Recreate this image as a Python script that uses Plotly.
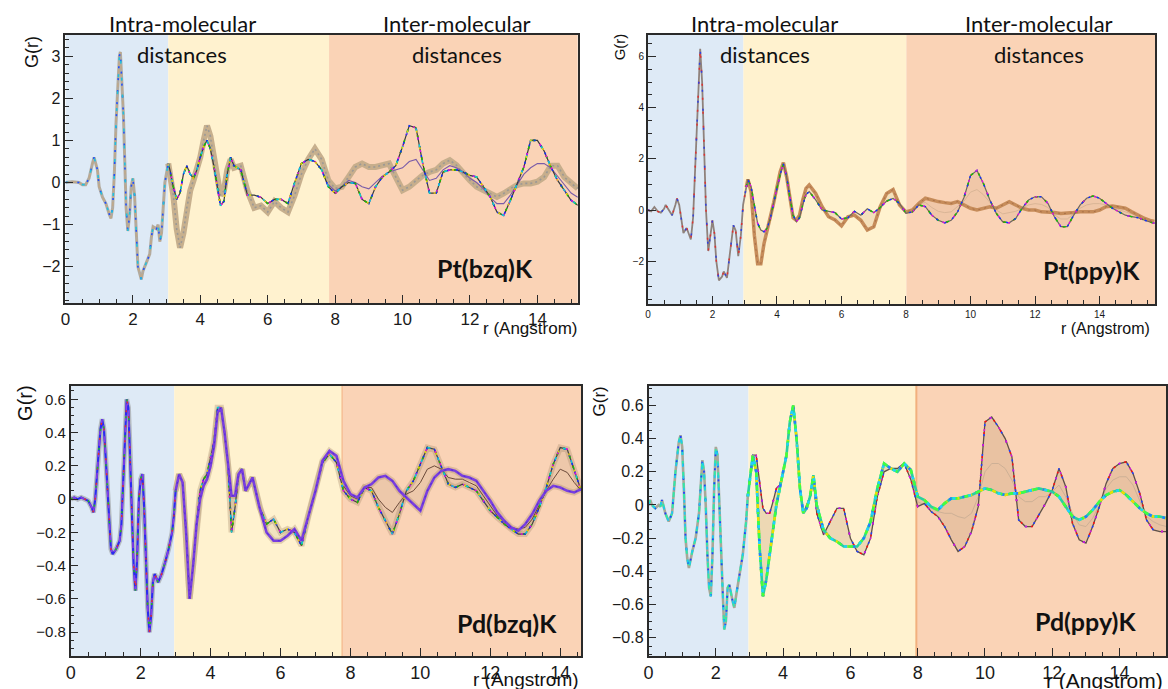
import plotly.graph_objects as go

W, H = 1168, 689

# ---------------- data (r in Angstrom, G(r)) ----------------
r_mid = [3.1, 3.2, 3.3, 3.4, 3.5, 3.6, 3.7, 3.8, 3.9, 4.0, 4.1, 4.2, 4.3, 4.4, 4.5, 4.6, 4.7, 4.8, 4.9, 5.0,
         5.2, 5.4, 5.6, 5.8, 6.0, 6.2, 6.4, 6.6, 6.8, 7.0, 7.2, 7.4, 7.6]
r_far = [7.8, 8.0, 8.2, 8.4, 8.6, 8.8, 9.0, 9.2, 9.4, 9.6, 9.8, 10.0, 10.2, 10.4, 10.6, 10.8, 11.0, 11.2, 11.4, 11.6,
         11.8, 12.0, 12.2, 12.4, 12.6, 12.8, 13.0, 13.2, 13.4, 13.6, 13.8, 14.0, 14.2, 14.4, 14.6, 14.8, 15.0, 15.2,
         15.4, 15.6, 15.7]

# Pt(bzq)K
r1_intra = [0.0, 0.2, 0.4, 0.5, 0.6, 0.7, 0.8, 0.85, 0.95, 1.0, 1.1, 1.2, 1.3, 1.35, 1.4, 1.45, 1.5, 1.55, 1.6, 1.63,
            1.68, 1.72, 1.76, 1.8, 1.85, 1.9, 1.95, 2.0, 2.05, 2.1, 2.15, 2.25, 2.3, 2.4, 2.5, 2.55, 2.6, 2.7, 2.75,
            2.8, 2.85, 2.9, 2.95, 3.05]
g1_intra = [0.0, 0.02, 0.0, -0.05, -0.05, 0.1, 0.45, 0.6, 0.3, -0.1, -0.35, -0.5, -0.75, -0.85, -0.6, 0.2, 1.4, 2.3,
            3.0, 3.1, 2.4, 1.6, 0.5, -0.6, -1.15, -0.8, -0.1, 0.1, -0.3, -1.2, -2.0, -2.3, -2.1, -1.9, -1.7, -1.3,
            -1.05, -1.1, -1.0, -1.4, -1.2, -0.6, 0.0, 0.45]
a1_mid = [0.3, -0.1, -0.4, -0.25, 0.2, 0.4, 0.2, 0.1, 0.3, 0.6, 0.85, 1.0, 0.8, 0.4, -0.1, -0.55, -0.45, 0.2, 0.6, 0.4,
          0.3, -0.3, -0.3, -0.35, -0.5, -0.4, -0.4, -0.5, 0.0, 0.45, 0.55, 0.5, 0.3]
b1_mid = [0.2, -0.3, -1.1, -1.55, -1.2, -0.6, -0.2, 0.05, 0.3, 0.6, 1.0, 1.35, 1.1, 0.6, 0.0, -0.3, -0.2, 0.3, 0.55,
          0.35, 0.4, -0.2, -0.6, -0.55, -0.7, -0.45, -0.6, -0.7, -0.3, 0.2, 0.55, 0.8, 0.55]
a1_far = [-0.1, -0.26, -0.1, 0.0, -0.02, -0.4, -0.5, -0.1, 0.13, 0.25, 0.4, 0.85, 1.35, 1.3, 0.45, -0.25, -0.25, 0.25,
          0.3, 0.3, 0.25, 0.17, 0.13, -0.1, -0.34, -0.7, -0.78, -0.42, -0.02, 0.37, 1.0, 1.0, 0.75, 0.37, 0.05,
          -0.18, -0.42, -0.54]
b1_far = [0.05, -0.14, -0.1, 0.13, 0.37, 0.45, 0.37, 0.37, 0.41, 0.45, 0.13, -0.18, -0.1, 0.05, 0.17, 0.25, 0.3, 0.45,
          0.53, 0.41, 0.21, 0.05, -0.1, -0.18, -0.26, -0.34, -0.26, -0.14, -0.06, -0.02, -0.02, 0.02, 0.13, 0.4, 0.4,
          0.13, -0.02, -0.14]
m1_far = [-0.05, -0.2, -0.1, 0.05, 0.0, -0.1, -0.15, 0.0, 0.15, 0.25, 0.3, 0.35, 0.5, 0.55, 0.3, 0.05, 0.1, 0.3, 0.4,
          0.35, 0.25, 0.1, 0.0, -0.15, -0.35, -0.5, -0.5, -0.3, -0.05, 0.2, 0.35, 0.45, 0.45, 0.35, 0.15, -0.05,
          -0.25, -0.35]

# Pt(ppy)K
r2_intra = [0.0, 0.1, 0.2, 0.3, 0.4, 0.5, 0.55, 0.65, 0.75, 0.85, 0.9, 0.97, 1.05, 1.1, 1.2, 1.25, 1.33, 1.4, 1.48,
            1.55, 1.62, 1.68, 1.74, 1.8, 1.87, 1.93, 2.0, 2.06, 2.12, 2.2, 2.3, 2.35, 2.45, 2.55, 2.65, 2.72, 2.8,
            2.88, 2.95, 3.05]
g2_intra = [0.0, -0.05, 0.12, -0.05, -0.1, 0.05, 0.2, 0.0, -0.2, 0.2, 0.45, 0.2, -0.6, -0.9, -0.7, -0.85, -1.15,
            -0.3, 2.0, 4.5, 6.3, 5.0, 2.5, 0.0, -1.6, -1.0, -0.4, -0.9, -2.0, -2.75, -2.6, -2.4, -2.65, -1.6, -0.6,
            -0.8, -1.8, -1.0, 0.2, 0.9]
a2_mid = [1.2, 0.9, 0.13, -0.52, -0.78, -0.85, -0.7, -0.3, 0.3, 0.9, 1.4, 1.8, 1.3, 0.5, -0.2, -0.45, -0.3, 0.2, 0.6,
          0.72, 0.4, 0.0, -0.05, -0.1, -0.35, -0.3, -0.05, -0.2, 0.05, -0.1, 0.1, 0.35, 0.45]
b2_mid = [1.2, 0.7, -1.0, -2.1, -2.1, -1.3, -0.8, -0.3, 0.3, 0.9, 1.5, 1.85, 1.3, 0.5, -0.3, -0.4, -0.2, 0.4, 0.85,
          0.98, 0.65, 0.13, -0.26, -0.39, -0.62, -0.26, -0.2, -0.4, -0.78, -0.65, 0.13, 0.65, 0.8]
a2_far = [0.26, -0.13, -0.07, 0.2, 0.13, -0.2, -0.4, -0.5, -0.4, -0.07, 0.5, 1.35, 1.55, 1.04, 0.39, -0.13, -0.46,
          -0.5, -0.33, 0.07, 0.39, 0.52, 0.52, 0.26, -0.26, -0.65, -0.65, -0.2, 0.2, 0.46, 0.55, 0.46, 0.26, 0.07,
          -0.07, -0.2, -0.26, -0.3, -0.4, -0.5, -0.52]
b2_far = [0.2, -0.07, 0.0, 0.26, 0.46, 0.39, 0.33, 0.29, 0.26, 0.33, 0.2, 0.07, 0.0, 0.07, 0.13, 0.07, 0.2, 0.33, 0.2,
          0.07, 0.0, 0.0, -0.07, -0.07, -0.1, -0.13, -0.13, -0.1, -0.07, -0.07, -0.07, 0.0, 0.13, 0.16, 0.13, 0.07,
          -0.07, -0.2, -0.33, -0.42, -0.45]
m2_far = [0.2, -0.1, -0.03, 0.22, 0.3, 0.1, -0.05, -0.1, -0.07, 0.13, 0.35, 0.7, 0.8, 0.6, 0.3, 0.0, -0.15, -0.1,
          -0.05, 0.07, 0.2, 0.25, 0.22, 0.1, -0.18, -0.35, -0.35, -0.15, 0.07, 0.2, 0.25, 0.25, 0.2, 0.1, 0.03,
          -0.07, -0.15, -0.25, -0.35, -0.45, -0.48]

# Pd(bzq)K
r3_intra = [0.0, 0.1, 0.2, 0.3, 0.4, 0.5, 0.6, 0.65, 0.7, 0.75, 0.8, 0.85, 0.9, 0.95, 1.0, 1.05, 1.1, 1.15, 1.2, 1.3,
            1.4, 1.45, 1.5, 1.55, 1.6, 1.65, 1.7, 1.75, 1.8, 1.85, 1.9, 1.95, 2.0, 2.05, 2.1, 2.15, 2.2, 2.25, 2.3,
            2.35, 2.4, 2.5, 2.6, 2.7, 2.8, 2.9, 2.95, 3.0]
g3_intra = [0.0, 0.01, 0.0, 0.01, 0.0, -0.01, -0.05, -0.08, 0.0, 0.15, 0.3, 0.42, 0.48, 0.42, 0.25, 0.05, -0.15, -0.3,
            -0.33, -0.3, -0.25, -0.15, 0.1, 0.4, 0.6, 0.55, 0.25, -0.1, -0.4, -0.55, -0.35, 0.0, 0.12, 0.15, -0.05,
            -0.35, -0.65, -0.8, -0.7, -0.5, -0.45, -0.5, -0.45, -0.38, -0.3, -0.2, -0.1, 0.05]
a3_mid = [0.15, 0.1, -0.2, -0.6, -0.4, -0.15, 0.05, 0.12, 0.15, 0.25, 0.35, 0.55, 0.55, 0.4, 0.2, -0.2, -0.05, 0.15,
          0.18, 0.05, 0.13, -0.05, -0.15, -0.12, -0.2, -0.18, -0.2, -0.28, -0.1, 0.05, 0.22, 0.27, 0.22]
b3_mid = [0.15, 0.1, -0.2, -0.6, -0.4, -0.15, 0.0, 0.08, 0.12, 0.2, 0.32, 0.52, 0.55, 0.4, 0.2, 0.02, 0.02, 0.15,
          0.18, 0.05, 0.13, -0.05, -0.2, -0.25, -0.25, -0.22, -0.18, -0.25, -0.1, 0.05, 0.23, 0.29, 0.26]
a3_far = [0.05, 0.0, -0.02, 0.07, 0.05, -0.05, -0.13, -0.21, -0.09, 0.05, 0.11, 0.21, 0.31, 0.3, 0.19, 0.09, 0.07,
          0.09, 0.07, 0.05, -0.01, -0.07, -0.11, -0.15, -0.18, -0.21, -0.21, -0.15, -0.05, 0.07, 0.21, 0.31, 0.3,
          0.17, 0.05]
b3_far = [0.11, 0.03, 0.01, 0.07, 0.09, 0.13, 0.14, 0.11, 0.05, 0.01, -0.03, -0.07, 0.05, 0.13, 0.17, 0.18, 0.17,
          0.14, 0.13, 0.11, 0.05, -0.01, -0.08, -0.13, -0.17, -0.19, -0.15, -0.09, -0.01, 0.05, 0.08, 0.07, 0.05,
          0.04, 0.06]
m3_far = [0.08, 0.02, 0.0, 0.07, 0.07, 0.0, -0.05, -0.08, -0.02, 0.03, 0.05, 0.1, 0.18, 0.2, 0.18, 0.13, 0.12, 0.12,
          0.1, 0.08, 0.02, -0.04, -0.1, -0.14, -0.17, -0.18, -0.17, -0.12, -0.03, 0.05, 0.12, 0.18, 0.16, 0.1, 0.05]

# Pd(ppy)K
r4_intra = [0.0, 0.05, 0.1, 0.2, 0.3, 0.35, 0.4, 0.5, 0.6, 0.7, 0.8, 0.9, 0.95, 1.0, 1.05, 1.1, 1.15, 1.2, 1.3, 1.4,
            1.5, 1.55, 1.6, 1.65, 1.7, 1.75, 1.8, 1.85, 1.9, 1.95, 2.0, 2.05, 2.1, 2.2, 2.25, 2.3, 2.35, 2.4, 2.5,
            2.55, 2.6, 2.7, 2.8, 2.9, 2.95]
g4_intra = [0.0, 0.03, 0.0, -0.02, 0.0, -0.01, 0.03, -0.05, -0.1, -0.05, 0.2, 0.38, 0.42, 0.35, 0.1, -0.2, -0.32,
            -0.38, -0.28, -0.2, -0.05, 0.15, 0.27, 0.2, 0.0, -0.3, -0.5, -0.55, -0.3, 0.1, 0.35, 0.3, 0.0, -0.5,
            -0.75, -0.7, -0.5, -0.48, -0.58, -0.62, -0.55, -0.42, -0.3, -0.1, 0.05]
a4_mid = [0.3, 0.2, -0.25, -0.55, -0.45, -0.3, -0.15, 0.0, 0.1, 0.2, 0.3, 0.5, 0.6, 0.4, 0.1, -0.05, -0.02, 0.05,
          0.18, 0.0, -0.15, -0.2, -0.22, -0.25, -0.25, -0.25, -0.2, -0.1, 0.1, 0.25, 0.22, 0.2, 0.25]
b4_mid = [0.3, 0.3, 0.15, -0.02, -0.05, -0.05, 0.02, 0.1, 0.12, 0.2, 0.3, 0.5, 0.6, 0.4, 0.1, -0.05, 0.0, 0.05,
          0.15, -0.05, -0.18, -0.1, -0.02, -0.02, -0.2, -0.28, -0.3, -0.2, 0.05, 0.2, 0.22, 0.22, 0.25]
a4_far = [0.21, 0.05, 0.03, -0.01, -0.03, 0.01, 0.04, 0.04, 0.05, 0.06, 0.08, 0.1, 0.09, 0.07, 0.06, 0.07, 0.07,
          0.08, 0.09, 0.1, 0.09, 0.08, 0.05, -0.01, -0.07, -0.09, -0.07, -0.03, 0.02, 0.06, 0.08, 0.09, 0.06, 0.02,
          -0.02, -0.05, -0.07, -0.07, -0.08]
b4_far = [0.15, -0.01, 0.01, -0.04, -0.07, -0.13, -0.21, -0.28, -0.25, -0.16, -0.01, 0.5, 0.53, 0.47, 0.4, 0.29,
          -0.09, -0.13, -0.13, -0.06, 0.01, 0.09, 0.22, 0.11, -0.11, -0.21, -0.23, -0.13, -0.01, 0.13, 0.22, 0.25,
          0.26, 0.19, 0.07, -0.09, -0.15, -0.16, -0.16]
m4_far = [0.18, 0.02, 0.0, -0.02, -0.04, -0.05, -0.05, -0.07, -0.08, -0.05, 0.05, 0.2, 0.25, 0.25, 0.22, 0.15, 0.05,
          0.02, 0.02, 0.05, 0.05, 0.08, 0.12, 0.05, -0.05, -0.12, -0.13, -0.08, 0.0, 0.1, 0.15, 0.17, 0.17, 0.12,
          0.02, -0.07, -0.1, -0.12, -0.13]

panel_names = ["Pt(bzq)K", "Pt(ppy)K", "Pd(bzq)K", "Pd(ppy)K"]
region_edges = [[3.05, 7.82], [2.96, 8.01], [2.96, 7.76], [2.97, 7.96]]
x_ranges = [[0, 15.2], [0, 15.73], [0, 14.6], [0, 15.38]]
y_ranges = [[-2.86, 3.51], [-3.67, 6.85], [-0.943, 0.68], [-0.91, 0.717]]

# ---------------- figure ----------------
fig = go.Figure()
FONT_AX = "Liberation Sans, Arial, sans-serif"
FONT_TX = "Lato, Open Sans, sans-serif"


def ax(i):
    return ("x" if i == 1 else f"x{i}"), ("y" if i == 1 else f"y{i}")


def line(i, x, y, color, width, dash="solid", fill=None, fillcolor=None):
    xa, ya = ax(i)
    fig.add_trace(go.Scatter(x=x, y=y, xaxis=xa, yaxis=ya, mode="lines",
                             line=dict(color=color, width=width, dash=dash),
                             fill=fill, fillcolor=fillcolor,
                             showlegend=False, hoverinfo="skip"))


SPECKS = [("#ff1010", "2px,9px"), ("#10c010", "3px,8px"), ("#1030ff", "2px,7px"),
          ("#e010e0", "2px,11px"), ("#10c8d8", "3px,13px"), ("#e8d000", "2px,15px")]


def speck(i, x, y, width, cols=SPECKS):
    for c, d in cols:
        line(i, x, y, c, width, d)


def tails(r_intra, g_intra, a_mid, b_mid, a_far, b_far, m_far):
    xa = [r_intra[-1]] + r_mid + r_far[:len(a_far)]
    ya = [g_intra[-1]] + a_mid + a_far
    xb = [r_intra[-1]] + r_mid + r_far[:len(b_far)]
    yb = [g_intra[-1]] + b_mid + b_far
    xm = r_far[:len(m_far)]
    return xa, ya, xb, yb, xm, m_far


# Panel 1: Pt(bzq)K
xa, ya, xb, yb, xm, ym = tails(r1_intra, g1_intra, a1_mid, b1_mid, a1_far, b1_far, m1_far)
line(1, xb, yb, "rgba(196,172,138,0.95)", 6)
line(1, xb, yb, "rgba(150,150,150,0.9)", 1.6, "2px,3px")
line(1, r1_intra, g1_intra, "rgba(175,168,155,0.95)", 3)
line(1, xm, ym, "#7a5ca8", 1.1)
line(1, xa, ya, "#3a3a3a", 1.2)
speck(1, xa, ya, 1.6)
line(1, r1_intra, g1_intra, "#c0a888", 1.4, "4px,3px")
speck(1, r1_intra, g1_intra, 1.6, [("#2050ff", "2px,10px"), ("#20c0e0", "3px,14px")])

# Panel 2: Pt(ppy)K
xa, ya, xb, yb, xm, ym = tails(r2_intra, g2_intra, a2_mid, b2_mid, a2_far, b2_far, m2_far)
line(2, xa, ya, "rgba(0,0,0,0)", 0)
line(2, xb, yb, "rgba(0,0,0,0)", 0, fill="tonexty", fillcolor="rgba(205,160,120,0.22)")
line(2, xm, ym, "#d9b596", 1)
line(2, xb, yb, "#c68c5a", 3.5)
line(2, xb, yb, "#a87048", 1, "2px,4px")
line(2, xa, ya, "#6e6660", 1.2)
speck(2, xa, ya, 1.5, SPECKS[:4])
line(2, r2_intra, g2_intra, "#8f827c", 1.8)
speck(2, r2_intra, g2_intra, 1.5, [("#e03030", "2px,12px"), ("#3040e0", "2px,17px")])

# Panel 3: Pd(bzq)K
xa, ya, xb, yb, xm, ym = tails(r3_intra, g3_intra, a3_mid, b3_mid, a3_far, b3_far, m3_far)
line(3, xa, ya, "rgba(170,140,110,0.35)", 6)
line(3, xb, yb, "rgba(170,140,110,0.35)", 6, fill="tonexty", fillcolor="rgba(170,140,110,0.15)")
line(3, xm, ym, "#6b4a3a", 1)
line(3, xa, ya, "#444444", 1.2)
speck(3, xa, ya, 1.6)
line(3, xb, yb, "#7a3ee0", 2.6)
line(3, xb, yb, "#5030d0", 1, "2px,5px")
line(3, r3_intra, g3_intra, "rgba(140,140,140,0.5)", 5)
line(3, r3_intra, g3_intra, "#2b2bf0", 2.2)
line(3, r3_intra, g3_intra, "#8a40e0", 1.6, "6px,5px")
speck(3, r3_intra, g3_intra, 1.5, [("#e03030", "2px,13px"), ("#20c020", "2px,17px")])

# Panel 4: Pd(ppy)K
xa, ya, xb, yb, xm, ym = tails(r4_intra, g4_intra, a4_mid, b4_mid, a4_far, b4_far, m4_far)
line(4, xa, ya, "rgba(0,0,0,0)", 0)
line(4, xb, yb, "rgba(0,0,0,0)", 0, fill="tonexty", fillcolor="rgba(190,150,110,0.28)")
line(4, xm, ym, "#cdb096", 1)
line(4, xb, yb, "#5e5048", 1.3)
speck(4, xb, yb, 1.6, [("#ff1010", "2px,10px"), ("#2040ff", "2px,8px"), ("#e010e0", "2px,13px")])
line(4, xa, ya, "#28d0a0", 2.6)
speck(4, xa, ya, 2.6, [("#e8e000", "4px,9px"), ("#2080ff", "3px,11px"), ("#40ff40", "5px,7px"),
                       ("#20d0ff", "3px,13px")])
line(4, r4_intra, g4_intra, "#a8a898", 2.6)
line(4, r4_intra, g4_intra, "#30e8a8", 2, "5px,6px")
speck(4, r4_intra, g4_intra, 1.8, [("#2040ff", "2px,12px"), ("#20c8f0", "3px,9px")])

# ---------------- layout ----------------
x_domains = [[60.7 / W, 575.3 / W], [645.7 / W, 1155.3 / W], [66 / W, 578.7 / W], [646.3 / W, 1166 / W]]
y_domains = [[1 - 303 / H, 1 - 34.7 / H], [1 - 304 / H, 1 - 34.7 / H], [1 - 656 / H, 1 - 386 / H],
             [1 - 656 / H, 1 - 386 / H]]
y_dticks = [(1, 0.2), (2, 0.5), (0.2, 0.05), (0.2, 0.05)]
x_fs = [17, 10, 18, 18]
y_fs = [16, 10, 15, 16]

layout = dict(width=W, height=H, margin=dict(l=0, r=0, t=0, b=0), autosize=False,
              paper_bgcolor="white", plot_bgcolor="white", showlegend=False)
shapes = []
for i in range(1, 5):
    k = "" if i == 1 else str(i)
    xa, ya = ax(i)
    common = dict(showgrid=False, zeroline=False, showline=True, linecolor="#2a2a2a", linewidth=1.5,
                  mirror=True, ticks="inside", ticklen=8, tickwidth=1, tickcolor="#2a2a2a")
    layout["xaxis" + k] = dict(domain=x_domains[i - 1], range=x_ranges[i - 1], anchor=ya, tick0=0, dtick=2,
                               minor=dict(ticks="inside", ticklen=4, dtick=0.5, tickcolor="#2a2a2a", showgrid=False),
                               tickfont=dict(family=FONT_AX, size=x_fs[i - 1], color="#1a1a1a"), **common)
    dt, mdt = y_dticks[i - 1]
    layout["yaxis" + k] = dict(domain=y_domains[i - 1], range=y_ranges[i - 1], anchor=xa, tick0=0, dtick=dt,
                               minor=dict(ticks="inside", ticklen=4, dtick=mdt, tickcolor="#2a2a2a", showgrid=False),
                               tickfont=dict(family=FONT_AX, size=y_fs[i - 1], color="#1a1a1a"), **common)
    e1, e2 = region_edges[i - 1]
    x_max = x_ranges[i - 1][1]
    for x0, x1, col in [(0, e1, "#DEEAF6"), (e1, e2, "#FFF2CF"), (e2, x_max, "#FAD3B6")]:
        shapes.append(dict(type="rect", xref=xa, yref=ya + " domain", x0=x0, x1=x1, y0=0, y1=1,
                           fillcolor=col, line=dict(width=0), layer="below"))
    if i >= 3:
        shapes.append(dict(type="line", xref=xa, yref=ya + " domain", x0=e2, x1=e2, y0=0, y1=1,
                           line=dict(color="#F2B07E", width=2 if i == 4 else 1), layer="below"))
layout["shapes"] = shapes


def P(px, py):
    return px / W, 1 - py / H


ann = []


def text(px, py, s, size, family=FONT_TX, bold=False, angle=0, xanchor="center", color="#111111"):
    x, y = P(px, py)
    ann.append(dict(x=x, y=y, xref="paper", yref="paper", text=("<b>%s</b>" % s) if bold else s,
                    showarrow=False, xanchor=xanchor, yanchor="middle", textangle=angle,
                    font=dict(family=family, size=size, color=color)))


for cx_intra, cx_inter in [(178, 454), (763, 1038)]:
    text(cx_intra, 24, "Intra-molecular", 22)
    text(cx_intra, 55, "distances", 22)
    text(cx_inter, 24, "Inter-molecular", 22)
    text(cx_inter, 55, "distances", 22)

label_pos = [(482, 268), (1091, 270), (504, 623), (1085, 621)]
for (px, py), name in zip(label_pos, panel_names):
    text(px, py, name, 25, bold=True)

for px, py, fs in [(27, 52, 18), (617, 47, 15), (20, 403, 20), (597, 401, 17)]:
    text(px, py, "G(r)", fs, family=FONT_AX, angle=-90)

for px, py, fs in [(576, 328, 17), (1152, 328, 16), (578, 679, 19), (1165, 680, 21)]:
    text(px, py, "r (Angstrom)", fs, family=FONT_AX, xanchor="right")

layout["annotations"] = ann
fig.update_layout(**layout)
fig.write_html("out.html")
